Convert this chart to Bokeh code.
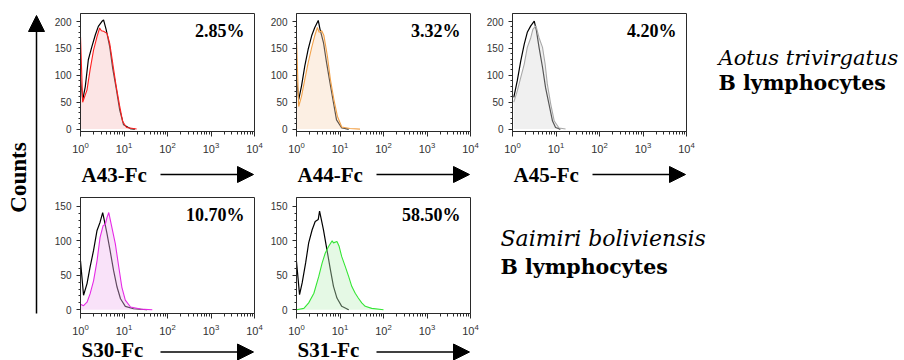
import numpy as np
from bokeh.plotting import figure
from bokeh.models import Label, Arrow, NormalHead, FixedTicker, Range1d
from bokeh.layouts import row, column
from bokeh.embed import file_html
from bokeh.resources import INLINE

# ---------------- data (log10 fluorescence channel, counts) ----------------
A43_CTRL_LOG = [0.0, 0.05, 0.11, 0.18, 0.26, 0.34, 0.41, 0.49, 0.53, 0.59, 0.67, 0.74, 0.82, 0.90, 0.99, 1.14, 1.25]
A43_CTRL_CNT = [95, 54, 79, 129, 153, 175, 191, 200, 203, 185, 154, 113, 76, 36, 8, 1, 0]
A43_SMP_LOG = [0.0, 0.05, 0.15, 0.22, 0.30, 0.38, 0.44, 0.48, 0.53, 0.61, 0.67, 0.74, 0.82, 0.90, 0.97, 1.06, 1.29]
A43_SMP_CNT = [172, 50, 73, 110, 147, 172, 188, 183, 182, 178, 160, 123, 80, 43, 14, 3, 0]

A44_CTRL_LOG = [0.0, 0.05, 0.115, 0.19, 0.27, 0.35, 0.42, 0.50, 0.54, 0.62, 0.69, 0.77, 0.85, 0.92, 1.04, 1.20]
A44_CTRL_CNT = [95, 55, 80, 117, 149, 174, 189, 202, 186, 161, 124, 86, 49, 17, 2, 0]
A44_SMP_LOG = [0.0, 0.05, 0.115, 0.19, 0.27, 0.35, 0.42, 0.48, 0.52, 0.58, 0.63, 0.71, 0.78, 0.86, 0.94, 1.04, 1.23, 1.46]
A44_SMP_CNT = [170, 42, 61, 92, 124, 152, 174, 189, 180, 183, 174, 136, 92, 55, 24, 4, 1, 0]

A45_CTRL_LOG = [0.03, 0.11, 0.19, 0.27, 0.34, 0.42, 0.50, 0.55, 0.61, 0.69, 0.76, 0.84, 0.92, 0.99, 1.10]
A45_CTRL_CNT = [59, 90, 127, 158, 180, 192, 201, 183, 152, 115, 77, 46, 15, 3, 0]
A45_SMP_LOG = [0.03, 0.11, 0.19, 0.27, 0.34, 0.42, 0.47, 0.54, 0.61, 0.69, 0.75, 0.80, 0.88, 0.96, 1.07, 1.22]
A45_SMP_CNT = [50, 71, 96, 121, 152, 170, 186, 192, 170, 152, 121, 84, 46, 15, 2, 0]

S30_CTRL_LOG = [0.0, 0.07, 0.15, 0.22, 0.30, 0.38, 0.45, 0.51, 0.55, 0.61, 0.68, 0.76, 0.84, 0.92, 1.03, 1.22, 1.53]
S30_CTRL_CNT = [71, 21, 38, 62, 86, 115, 127, 141, 129, 110, 86, 57, 33, 16, 5, 1.5, 0]
S30_SMP_LOG = [0.0, 0.07, 0.15, 0.22, 0.30, 0.38, 0.45, 0.52, 0.57, 0.61, 0.65, 0.72, 0.80, 0.88, 0.95, 1.03, 1.15, 1.38, 1.65]
S30_SMP_CNT = [8, 6, 11, 23, 42, 71, 105, 122, 124, 134, 141, 120, 96, 62, 33, 14, 4, 1, 0]

S31_CTRL_LOG = [0.0, 0.07, 0.13, 0.21, 0.28, 0.36, 0.43, 0.50, 0.53, 0.57, 0.62, 0.70, 0.78, 0.85, 0.93, 1.04, 1.20]
S31_CTRL_CNT = [70, 22, 39, 68, 97, 116, 128, 131, 143, 131, 116, 87, 58, 34, 17, 5, 0]
S31_SMP_LOG = [0.0, 0.17, 0.28, 0.40, 0.51, 0.59, 0.66, 0.74, 0.82, 0.85, 0.93, 0.98, 1.04, 1.12, 1.20, 1.27, 1.35, 1.42, 1.50, 1.58, 1.73, 2.0]
S31_SMP_CNT = [0, 2, 10, 24, 48, 68, 82, 92, 100, 97, 99, 92, 77, 63, 48, 34, 24, 17, 10, 5, 2, 0]

PANEL_NAMES = ["A43-Fc", "A44-Fc", "A45-Fc", "S30-Fc", "S31-Fc"]
PANEL_PCTS = ["2.85%", "3.32%", "4.20%", "10.70%", "58.50%"]
LINE_COLORS = ["#ff1f1f", "#f2a24a", "#a9a9a9", "#e629e6", "#35e635"]
FILL_COLORS = ["#f7bdbd", "#f7d8b8", "#d9d9d9", "#efb6ef", "#bdefbd"]
ROW1_YTICKS = [0, 50, 100, 150, 200]
ROW2_YTICKS = [0, 50, 100, 150]
X_DECADES = [1, 10, 100, 1000, 10000]
SPECIES = [("Aotus trivirgatus", "B lymphocytes"), ("Saimiri boliviensis", "B lymphocytes")]

FW = 174      # frame width of a panel
PW = 216      # panel figure width
SERIF = "Liberation Serif"
SANS = "Liberation Sans"


def make_panel(i, cx, cy, sx, sy, yticks, ylo, yhi, fh, bt, bb, pct_dy):
    p = figure(width=PW, height=bt + fh + bb, x_axis_type="log",
               x_range=Range1d(1, 1e4), y_range=Range1d(ylo, yhi),
               output_backend="svg", toolbar_location=None,
               min_border_left=30, min_border_right=PW - 30 - FW, min_border_top=bt,
               min_border_bottom=bb)
    p.grid.visible = False
    p.outline_line_color = "#2a2a2a"
    p.background_fill_color = "white"
    p.border_fill_color = "white"

    ppu = fh / (yhi - ylo)

    xminor = [m * 10 ** k for k in range(4) for m in range(2, 10)]
    p.xaxis.ticker = FixedTicker(ticks=X_DECADES, minor_ticks=xminor)
    p.yaxis.ticker = FixedTicker(ticks=yticks,
                                 minor_ticks=list(range(0, int(yticks[-1]) + 1, 10)))
    for ax in (p.xaxis, p.yaxis):
        ax.axis_line_color = "#2a2a2a"
        ax.major_tick_line_color = "#2a2a2a"
        ax.minor_tick_line_color = "#2a2a2a"
        ax.major_tick_in = 0
        ax.minor_tick_in = 0
        ax.major_label_text_font = SANS
        ax.major_label_text_color = "#333333"
    p.yaxis.major_label_text_font_size = "10px"
    p.xaxis.major_label_text_font_size = "11px"
    p.yaxis.major_tick_out = 4
    p.yaxis.minor_tick_out = 2
    p.yaxis.major_label_standoff = 5
    p.xaxis.major_tick_out = 5
    p.xaxis.minor_tick_out = 3
    p.xaxis.major_label_standoff = 5

    cxv = 10 ** np.array(cx, dtype=float)
    sxv = 10 ** np.array(sx, dtype=float)
    p.line(cxv, cy, line_color="black", line_width=1.2)
    p.varea(x=sxv, y1=0, y2=sy, fill_color=FILL_COLORS[i], fill_alpha=0.4)
    p.line(sxv, sy, line_color=LINE_COLORS[i], line_width=1.1)

    p.add_layout(Label(x=10 ** ((FW - 10) / FW * 4.0), y=yhi - pct_dy / ppu,
                       text=PANEL_PCTS[i],
                       text_font=SERIF, text_font_style="bold", text_font_size="18px",
                       text_align="right", text_baseline="middle", text_color="black"))
    return p


def blank(w, h):
    f = figure(width=w, height=h, x_range=Range1d(0, w), y_range=Range1d(0, h),
               output_backend="svg", toolbar_location=None, min_border=0,
               x_axis_location=None, y_axis_location=None)
    f.grid.visible = False
    f.outline_line_color = None
    f.background_fill_color = "white"
    f.border_fill_color = "white"
    return f


def strip(names, h, text_y, arrow_y):
    s = blank(PW * len(names), h)
    for k, nm in enumerate(names):
        fl = PW * k + 30
        s.add_layout(Label(x=fl + 1, y=text_y, text=nm, text_font=SERIF,
                           text_font_style="bold", text_font_size="21px",
                           text_align="left", text_baseline="middle",
                           text_color="black"))
        s.add_layout(Arrow(end=NormalHead(size=16, fill_color="black", line_color="black"),
                           x_start=fl + 80, y_start=arrow_y, x_end=fl + 173, y_end=arrow_y,
                           line_color="black", line_width=1.5))
    return s


R1 = dict(yticks=ROW1_YTICKS, ylo=-4.5, yhi=215.0, fh=118, bt=13, bb=30, pct_dy=17.7)
R2 = dict(yticks=ROW2_YTICKS, ylo=-5.4, yhi=162.8, fh=116, bt=7, bb=24, pct_dy=17)

p1 = make_panel(0, A43_CTRL_LOG, A43_CTRL_CNT, A43_SMP_LOG, A43_SMP_CNT, **R1)
p2 = make_panel(1, A44_CTRL_LOG, A44_CTRL_CNT, A44_SMP_LOG, A44_SMP_CNT, **R1)
p3 = make_panel(2, A45_CTRL_LOG, A45_CTRL_CNT, A45_SMP_LOG, A45_SMP_CNT, **R1)
p4 = make_panel(3, S30_CTRL_LOG, S30_CTRL_CNT, S30_SMP_LOG, S30_SMP_CNT, **R2)
p5 = make_panel(4, S31_CTRL_LOG, S31_CTRL_CNT, S31_SMP_LOG, S31_SMP_CNT, **R2)

s1 = strip(PANEL_NAMES[:3], 29, 15.5, 16)    # y 161..190
s2 = strip(PANEL_NAMES[3:], 23, 11, 8.5)     # y 337..360

left = blank(50, 360)
left.add_layout(Label(x=18, y=183, text="Counts", angle=np.pi / 2,
                      text_font=SERIF, text_font_style="bold", text_font_size="23px",
                      text_align="center", text_baseline="middle", text_color="black"))
left.add_layout(Arrow(end=NormalHead(size=16, fill_color="black", line_color="black"),
                      x_start=36, y_start=47, x_end=36, y_end=345,
                      line_color="black", line_width=1.5))

t1 = blank(204, 190)
t1.add_layout(Label(x=20, y=133, text=SPECIES[0][0], text_font="DejaVu Serif",
                    text_font_style="italic", text_font_size="21px",
                    text_baseline="middle", text_color="black"))
t1.add_layout(Label(x=20, y=108, text=SPECIES[0][1], text_font="DejaVu Serif",
                    text_font_style="bold", text_font_size="20.5px",
                    text_baseline="middle", text_color="black"))

t2 = blank(420, 170)
t2.add_layout(Label(x=18, y=121.7, text=SPECIES[1][0], text_font="DejaVu Serif",
                    text_font_style="italic", text_font_size="22px",
                    text_baseline="middle", text_color="black"))
t2.add_layout(Label(x=18, y=93.5, text=SPECIES[1][1], text_font="DejaVu Serif",
                    text_font_style="bold", text_font_size="20.5px",
                    text_baseline="middle", text_color="black"))

row1 = row(column(row(p1, p2, p3), s1), t1)
row2 = row(column(row(p4, p5), s2), t2)
layout = row(left, column(row1, row2))

open("out.html", "w").write(file_html(layout, INLINE))
